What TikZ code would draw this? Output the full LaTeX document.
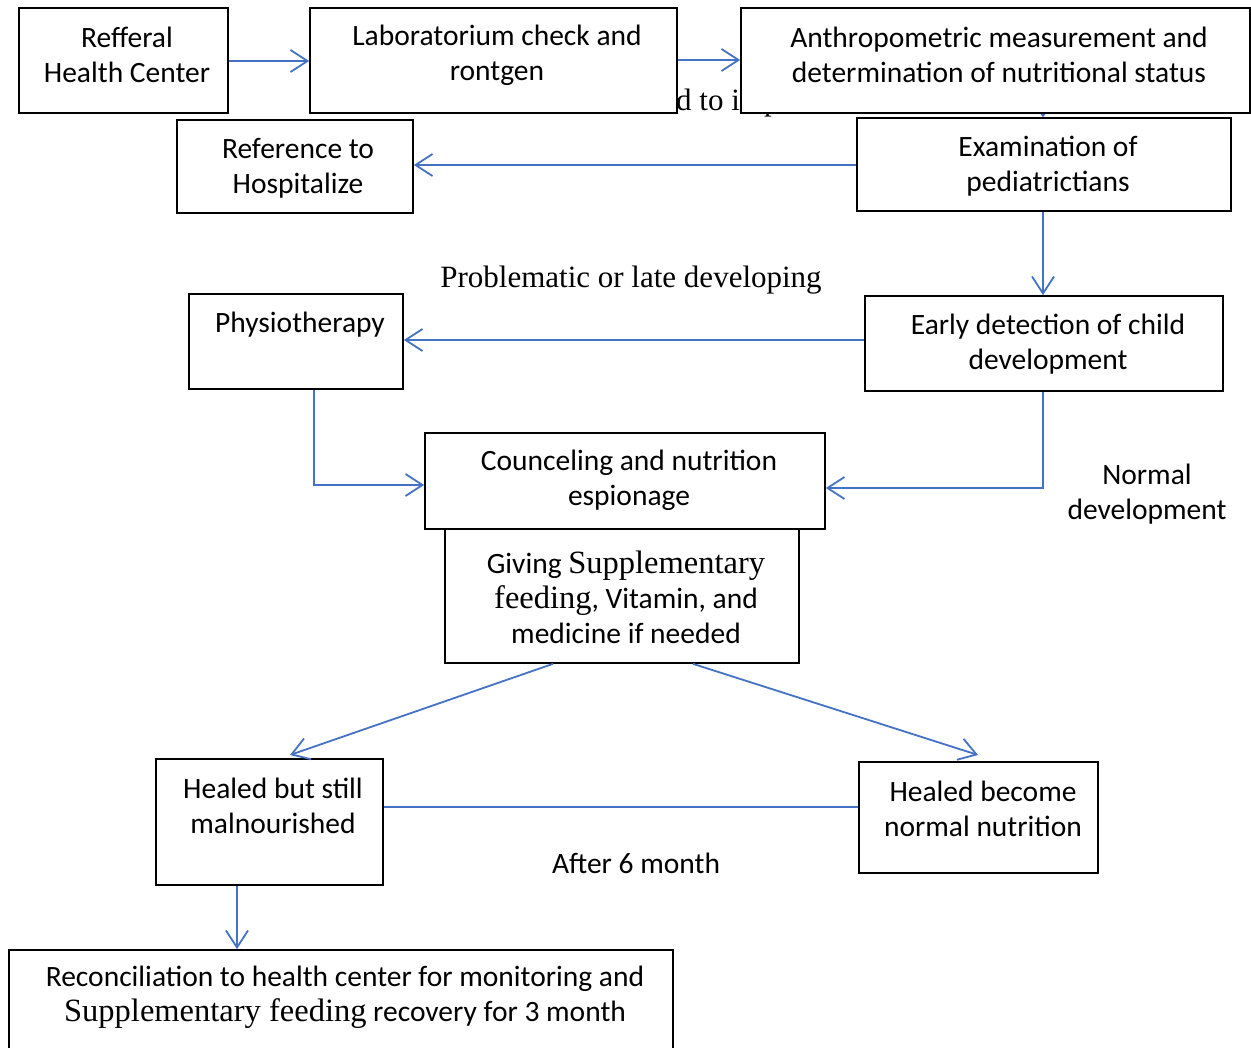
\documentclass[tikz,border=0pt]{standalone}
\usepackage{fontspec}
\setmainfont{Carlito}
\newfontfamily\serifx{Liberation Serif}
\newcommand{\sxs}[1]{{\serifx\fontsize{32.5}{35}\selectfont #1}}
\usetikzlibrary{arrows.meta,calc}
\pgfdeclarelayer{background}
\pgfsetlayers{background,main}
\definecolor{flowblue}{RGB}{68,114,196}
\tikzset{
  box/.style={draw=black, line width=1.7pt, fill=white, rectangle, inner sep=0pt},
  txt/.style={align=center, inner sep=0pt, font=\fontsize{29.5}{35}\selectfont},
  serif/.style={inner sep=0pt, font=\serifx\fontsize{31}{35}\selectfont},
  flow/.style={draw=flowblue, line width=1.8pt, -{Straight Barb[length=17pt,width=22pt,line width=1.8pt]}},
  plain/.style={draw=flowblue, line width=1.8pt}
}
\begin{document}
\begin{tikzpicture}[x=1pt,y=-1pt]
\clip (0,0) rectangle (1251,1048);
% boxes
\node[box, minimum width=209pt, minimum height=105pt] (ref) at (123.5,60.5) {};
\node[box, minimum width=367pt, minimum height=105pt] (lab) at (493.5,60.5) {};
\node[box, minimum width=509pt, minimum height=105pt] (anth) at (995.5,60.5) {};
\node[box, minimum width=236pt, minimum height=93pt] (hosp) at (295,166.5) {};
\node[box, minimum width=374pt, minimum height=93pt] (exam) at (1044,164.5) {};
\node[box, minimum width=214pt, minimum height=95pt] (phys) at (296,341.5) {};
\node[box, minimum width=358pt, minimum height=95pt] (early) at (1044,343.5) {};
\node[box, minimum width=354pt, minimum height=134pt] (give) at (622,596) {};
\node[box, minimum width=400pt, minimum height=96pt] (counc) at (625,481) {};
\node[box, minimum width=227pt, minimum height=126pt] (heal1) at (269.5,822) {};
\node[box, minimum width=239pt, minimum height=111pt] (heal2) at (978.5,817.5) {};
\node[box, minimum width=664pt, minimum height=112pt] (recon) at (341,1006) {};
% texts in boxes
\node[txt] (tref) at (127,55) {Refferal\\Health Center};
\node[txt] (tlab) at (497,55) {Laboratorium check and\\rontgen};
\node[txt] (tanth) at (999,55) {Anthropometric measurement and\\determination of nutritional status};
\node[txt] (thosp) at (298,168) {Reference to\\Hospitalize};
\node[txt] (texam) at (1048,166) {Examination of\\pediatrictians};
\node[txt] (tphys) at (300,325) {Physiotherapy};
\node[txt] (tearly) at (1048,344) {Early detection of child\\development};
\node[txt] (tcounc) at (629,480) {Counceling and nutrition\\espionage};
\node[txt] (tgive) at (626,597) {Giving \sxs{Supplementary}\\\sxs{feeding}, Vitamin, and\\medicine if needed};
\node[txt] (theal1) at (273,806) {Healed but still\\malnourished};
\node[txt] (theal2) at (983,809) {Healed become\\normal nutrition};
\node[txt] (trecon) at (345,997) {Reconciliation to health center for monitoring and\\\sxs{Supplementary feeding} recovery for 3 month};
% free labels
\node[serif] (lprob) at (631,280) {Problematic or late developing};
\node[txt] (lnorm) at (1147,494) {Normal\\development};
\node[txt] (lafter) at (636,863) {After 6 month};
% connectors
\draw[flow] (ref.east |- 0,61) -- (lab.west |- 0,61);
\draw[flow] (lab.east |- 0,60) -- (anth.west |- 0,60);
\draw[flow] (exam.west |- 0,165) -- (hosp.east |- 0,165);
\draw[flow] (exam.south -| 1043,0) -- (early.north -| 1043,0);
\draw[flow] (early.west |- 0,340) -- (phys.east |- 0,340);
\draw[flow] (phys.south -| 314,0) |- (counc.west |- 0,485);
\draw[flow] (early.south -| 1043,0) |- (counc.east |- 0,488);
\draw[flow] (give.south -| 553,0) -- (290,755) coordinate (h1top);
\draw[flow] (give.south -| 693,0) -- (978,755) coordinate (h2top);
\draw[plain] (heal1.east |- 0,807) -- (heal2.west |- 0,807);
\draw[flow] (heal1.south -| 237,0) -- (recon.north -| 237,0);
% hidden items behind boxes
\begin{pgfonlayer}{background}
\fill[white] (0,0) rectangle (1251,1048);
\node[serif, anchor=base west] (lhid) at (676,111) {d to improve};
\draw[draw=flowblue, line width=1.5pt, -{Triangle[length=5pt,width=8pt]}] (anth.south -| 1043,0) ++(0,-20) coordinate (hs) -- (exam.north -| 1043,0);
\end{pgfonlayer}
\end{tikzpicture}
\end{document}
